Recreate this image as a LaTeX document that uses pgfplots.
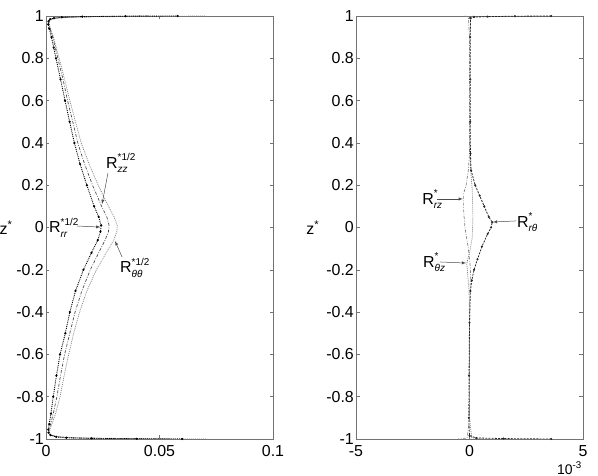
\documentclass[border=0pt]{standalone}
\usepackage{pgfplots}
\pgfplotsset{compat=1.18}
\usepackage{fontspec}
\setmainfont{Liberation Sans}
\newcommand{\Rl}[2]{R\rlap{\raisebox{7.5pt}{\fontsize{10}{10}\selectfont #1}}\raisebox{-4.5pt}{\fontsize{10}{10}\selectfont\itshape #2}}
\pgfplotsset{
  myax/.style={
    scale only axis, width=227bp, height=423bp, anchor=south west,
    axis line style={black!55, line width=0.6pt},
    tick style={black!55, line width=0.5pt},
    tick align=inside, major tick length=3.5bp,
    ymin=-1, ymax=1,
    ytick={-1,-0.8,-0.6,-0.4,-0.2,0,0.2,0.4,0.6,0.8,1},
    yticklabels={-1,-0.8,-0.6,-0.4,-0.2,0,0.2,0.4,0.6,0.8,1},
    /pgf/number format/assume math mode=true,
    ticklabel style={font=\fontsize{16}{16}\selectfont, inner sep=1pt},
    xticklabel style={yshift=-5.5pt},
    yticklabel style={xshift=-1pt},
    ylabel style={rotate=-90, font=\fontsize{16}{16}\selectfont},
    ylabel={z\textsuperscript{*}},
  },
  rr/.style={black, line width=0.9pt, densely dotted, mark=*, mark size=0.6pt, mark options={solid}},
  zz/.style={black!70, line width=0.7pt, dash pattern=on 3pt off 1.5pt on 0.8pt off 1.5pt},
  tt/.style={black!50, line width=0.7pt, dash pattern=on 1pt off 1pt},
}
\pgfplotstableread{
x z
0.058 1.000
0.035 0.999
0.016 0.997
0.007 0.994
0.0035 0.990
0.0018 0.985
0.0011 0.975
0.0010 0.960
0.0014 0.940
0.0024 0.900
0.0034 0.850
0.0044 0.800
0.0064 0.700
0.0084 0.600
0.0104 0.500
0.0125 0.400
0.0150 0.300
0.0180 0.200
0.0212 0.100
0.0232 0.050
0.0243 0.010
0.0240 -0.020
0.0228 -0.060
0.0200 -0.120
0.0165 -0.200
0.0130 -0.300
0.0105 -0.400
0.0085 -0.500
0.0062 -0.600
0.0046 -0.700
0.0032 -0.800
0.0022 -0.880
0.0014 -0.930
0.0010 -0.955
0.0011 -0.970
0.0020 -0.982
0.0045 -0.990
0.009 -0.994
0.020 -0.997
0.040 -0.999
0.060 -1.000
}\rrdata
\pgfplotstableread{
x z
0.045 1.000
0.025 0.998
0.010 0.995
0.004 0.990
0.0018 0.984
0.0012 0.975
0.0012 0.960
0.0018 0.940
0.0030 0.900
0.0041 0.850
0.0052 0.800
0.0075 0.700
0.0095 0.600
0.0118 0.500
0.0140 0.400
0.0170 0.300
0.0205 0.200
0.0245 0.100
0.0268 0.050
0.0278 0.010
0.0275 -0.020
0.0260 -0.060
0.0232 -0.120
0.0195 -0.200
0.0158 -0.300
0.0128 -0.400
0.0105 -0.500
0.0082 -0.600
0.0064 -0.700
0.0048 -0.800
0.0032 -0.880
0.0020 -0.930
0.0014 -0.955
0.0013 -0.970
0.0022 -0.982
0.005 -0.990
0.012 -0.995
0.030 -0.998
0.050 -1.000
}\zzdata
\pgfplotstableread{
x z
0.070 1.000
0.040 0.998
0.014 0.995
0.005 0.990
0.0022 0.984
0.0014 0.975
0.0014 0.960
0.0020 0.940
0.0033 0.900
0.0045 0.850
0.0058 0.800
0.0082 0.700
0.0105 0.600
0.0130 0.500
0.0155 0.400
0.0190 0.300
0.0230 0.200
0.0275 0.100
0.0300 0.050
0.0314 0.010
0.0312 -0.020
0.0298 -0.060
0.0265 -0.120
0.0222 -0.200
0.0180 -0.300
0.0148 -0.400
0.0122 -0.500
0.0100 -0.600
0.0080 -0.700
0.0062 -0.800
0.0042 -0.880
0.0026 -0.930
0.0017 -0.955
0.0015 -0.970
0.0025 -0.982
0.006 -0.990
0.015 -0.995
0.040 -0.998
0.071 -1.000
}\ttdata
\pgfplotstableread{
x z
3.6 1.000
2.0 0.999
0.8 0.997
0.2 0.995
0.05 0.990
0.03 0.900
0.03 0.700
0.03 0.500
0.04 0.350
0.07 0.270
0.25 0.200
0.45 0.150
0.65 0.100
0.85 0.050
1.0 0.025
0.95 0.000
0.80 -0.030
0.55 -0.090
0.35 -0.150
0.20 -0.200
0.10 -0.250
0.04 -0.300
0.00 -0.450
-0.02 -0.700
-0.03 -0.900
0.00 -0.985
0.3 -0.995
1.5 -0.998
3.6 -1.000
}\rtdata
\pgfplotstableread{
x z
-0.2 1.000
-0.05 0.995
0.0 0.900
0.0 0.350
-0.05 0.270
-0.15 0.200
-0.26 0.160
-0.26 0.080
-0.20 0.000
-0.05 -0.100
0.05 -0.200
0.02 -0.300
0.0 -0.500
0.0 -0.900
-0.1 -0.995
-0.5 -1.000
}\rzdata
\pgfplotstableread{
x z
0.2 1.000
0.05 0.995
0.02 0.900
0.02 0.350
0.05 0.270
0.12 0.180
0.15 0.050
0.12 -0.050
0.0 -0.120
-0.12 -0.170
-0.08 -0.220
-0.02 -0.300
0.0 -0.500
0.0 -0.900
0.1 -0.995
0.6 -1.000
}\tzdata
\begin{document}
\begin{tikzpicture}
\useasboundingbox (0,0) rectangle (598bp,476bp);
\begin{axis}[myax, at={(46bp,37bp)},
  xmin=0, xmax=0.1, xtick={0,0.05,0.1}, xticklabels={0,0.05,0.1},
  ylabel style={at={(axis description cs:-0.176,0.5)}, anchor=center}]
\addplot[tt] table[x=x,y=z] {\ttdata};
\addplot[zz] table[x=x,y=z] {\zzdata};
\addplot[rr] table[x=x,y=z] {\rrdata};
\node[anchor=base west, inner sep=0pt, font=\fontsize{16}{16}\selectfont] at (axis cs:0.0264,0.281) {\Rl{*1/2}{zz}};
\draw[-latex, black!70, line width=0.5pt] (axis cs:0.0273,0.258) -- (axis cs:0.0247,0.111);
\node[anchor=base west, inner sep=0pt, font=\fontsize{16}{16}\selectfont] at (axis cs:0.0013,-0.026) {\Rl{*1/2}{rr}};
\draw[-latex, black!70, line width=0.5pt] (axis cs:0.0137,0.007) -- (axis cs:0.0240,0.002);
\node[anchor=base west, inner sep=0pt, font=\fontsize{16}{16}\selectfont] at (axis cs:0.0326,-0.215) {\Rl{*1/2}{θθ}};
\draw[-latex, black!70, line width=0.5pt] (axis cs:0.0335,-0.139) -- (axis cs:0.0304,-0.064);
\end{axis}
\begin{axis}[myax, at={(356bp,37bp)},
  xmin=-5, xmax=5, xtick={-5,0,5}, xticklabels={-5,0,5},
  ylabel style={at={(axis description cs:-0.19,0.5)}, anchor=center}]
\addplot[tt] table[x=x,y=z] {\tzdata};
\addplot[zz, black!50] table[x=x,y=z] {\rzdata};
\addplot[black!85, line width=0.8pt, dash pattern=on 2pt off 1.2pt, mark=*, mark size=0.6pt, mark options={solid}] table[x=x,y=z] {\rtdata};
\node[anchor=base west, inner sep=0pt, font=\fontsize{16}{16}\selectfont] at (axis cs:-2.09,0.111) {\Rl{*}{rz}};
\draw[-latex, black!70, line width=0.5pt] (axis cs:-1.43,0.135) -- (axis cs:-0.29,0.135);
\node[anchor=base west, inner sep=0pt, font=\fontsize{16}{16}\selectfont] at (axis cs:2.09,0.002) {\Rl{*}{rθ}};
\draw[-latex, black!70, line width=0.5pt] (axis cs:2.05,0.031) -- (axis cs:1.03,0.026);
\node[anchor=base west, inner sep=0pt, font=\fontsize{16}{16}\selectfont] at (axis cs:-2.05,-0.187) {\Rl{*}{θz}};
\draw[-latex, black!70, line width=0.5pt] (axis cs:-1.3,-0.163) -- (axis cs:-0.15,-0.168);
\end{axis}
\node[anchor=base west, inner sep=0pt, font=\fontsize{14}{14}\selectfont] at (557bp,2bp) {10\textsuperscript{-3}};
\end{tikzpicture}
\end{document}
